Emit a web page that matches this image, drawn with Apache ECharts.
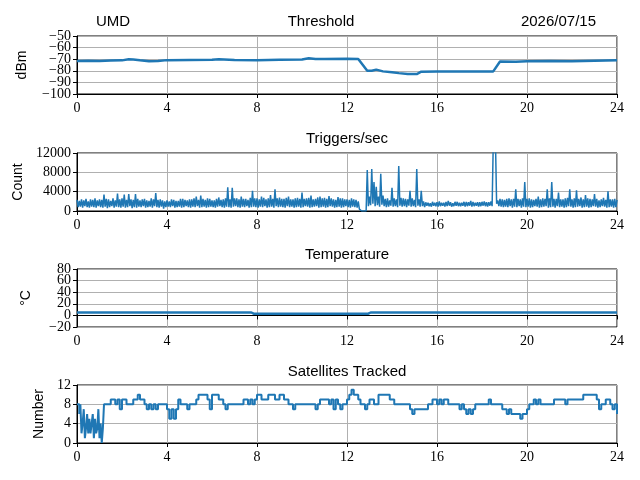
<!DOCTYPE html>
<html>
<head>
  <meta charset="UTF-8">
  <title>UMD detector status</title>
  <script src="https://cdn.jsdelivr.net/npm/echarts@6"></script>
  <style>
    html, body { margin: 0; padding: 0; background: #fff; }
    #chart { width: 640px; height: 480px; }
  </style>
</head>
<body>
  <div id="chart"></div>
  <script>
    // header texts
    const station = 'UMD';
    const dateText = '2026/07/15';
    const panelTitles = ['Threshold', 'Triggers/sec', 'Temperature', 'Satellites Tracked'];
    const yNames = ['dBm', 'Count', '°C', 'Number'];

    // threshold (dBm), hours -> value
    const thrTime = [0, 0.5, 1, 1.5, 2, 2.3, 2.5, 2.8, 3.2, 3.6, 4, 5, 6, 6.3, 7, 8, 9, 10, 10.3, 10.6,
      11, 12, 12.5, 12.9, 13.1, 13.3, 13.6, 14, 14.3, 14.7, 15.1, 15.3, 16, 17, 18, 18.5, 18.8,
      19.5, 20, 21, 22, 23, 24];
    const thrValue = [-71.5, -71.3, -71.6, -71.2, -71, -70, -70.3, -71, -71.8, -71.6, -70.8, -70.6,
      -70.4, -70, -70.6, -70.8, -70.4, -70.2, -69.2, -69.8, -69.8, -69.7, -69.8, -80, -80, -79,
      -80.5, -81.3, -82, -82.8, -82.8, -80.8, -80.6, -80.5, -80.7, -80.5, -72, -72.2, -71.8,
      -71.6, -71.8, -71.4, -71];

    // triggers per second: peak of each 0.1 h slot (one row per hour) ...
    const trigHigh = [
      2300, 2100, 2400, 2200, 2500, 2000, 2400, 2300, 2600, 2200,
      2400, 2300, 3400, 2500, 2400, 2100, 2600, 2200, 3600, 2400,
      2600, 3400, 2300, 3500, 2400, 2300, 3500, 2500, 2200, 2400,
      2500, 2200, 2100, 2600, 2400, 3700, 2300, 2400, 2200, 2000,
      2200, 2000, 2400, 2300, 2100, 2100, 2500, 2500, 2300, 2200,
      2400, 2400, 2600, 3000, 2300, 3200, 2500, 2300, 2600, 2500,
      2200, 2200, 2500, 2800, 2300, 2400, 2600, 4900, 2400, 4800,
      2600, 2600, 2400, 3000, 2500, 2500, 2300, 2700, 4200, 2600,
      2600, 2400, 3000, 2700, 2400, 2600, 3300, 2500, 4500, 2600,
      2800, 2500, 2500, 2700, 3000, 2400, 2400, 2600, 2700, 2500,
      3800, 2500, 2600, 2700, 3200, 2400, 2500, 2800, 3000, 2600,
      2700, 2500, 3100, 2600, 2400, 2300, 2900, 2600, 2600, 2400,
      2400, 2300, 2600, 2400, 2300, 2000, 100, 0, 300, 8500,
      3000, 8700, 6000, 5000, 3000, 7700, 3200, 2500, 2600, 2200,
      4800, 2600, 2400, 9300, 2700, 2600, 2500, 2400, 4200, 2600,
      2300, 8700, 2400, 4200, 2000, 1800, 1700, 1600, 1900, 1700,
      1800, 2000, 1700, 1700, 1900, 2100, 1800, 1600, 1900, 1900,
      1700, 1700, 1900, 1900, 1800, 2100, 1900, 1700, 1800, 1800,
      1900, 2000, 1800, 1800, 2000, 14000, 14000, 2200, 2500, 2400,
      2300, 2500, 2600, 2400, 2500, 4500, 2500, 2400, 2600, 6000,
      2500, 2600, 2400, 2300, 2500, 3000, 2400, 2600, 2500, 4500,
      2600, 6000, 2500, 2500, 3800, 2400, 2400, 2600, 2700, 4500,
      2400, 2600, 4300, 2500, 2800, 2400, 3300, 2600, 2500, 2400,
      3500, 2500, 2200, 2400, 2700, 2300, 4100, 2400, 2400, 2500,
      2300
    ];
    // ... and the trough half a slot later
    const trigLow = [
      800, 900, 700, 1000, 800, 700, 900, 800, 700, 1000,
      800, 700, 900, 600, 800, 1000, 700, 900, 800, 700,
      900, 700, 800, 1000, 600, 800, 700, 900, 800, 1000,
      700, 800, 900, 700, 1000, 800, 700, 900, 500, 800,
      900, 800, 1000, 700, 800, 900, 700, 800, 1000, 800,
      700, 900, 800, 1000, 700, 800, 900, 700, 800, 900,
      800, 700, 900, 1000, 800, 700, 900, 800, 700, 900,
      1000, 800, 700, 900, 800, 1000, 700, 800, 900, 800,
      700, 900, 800, 1000, 700, 800, 900, 700, 1000, 800,
      900, 800, 700, 1000, 800, 900, 700, 800, 900, 700,
      800, 1000, 900, 700, 800, 900, 1000, 700, 800, 900,
      700, 800, 1000, 900, 700, 800, 900, 700, 800, 1000,
      800, 700, 900, 800, 700, 400, 0, 0, 0, 1000,
      1200, 1500, 1000, 1200, 900, 1300, 1000, 800, 900, 1100,
      900, 1000, 800, 1100, 900, 1000, 800, 1100, 900, 1000,
      800, 1100, 900, 1000, 800, 1100, 1000, 900, 1100, 1000,
      900, 1000, 1100, 900, 1000, 1100, 900, 1000, 1100, 1000,
      1000, 1100, 900, 1000, 1100, 900, 1000, 1100, 900, 1000,
      1100, 1000, 900, 1100, 1000, 13000, 1500, 1000, 900, 800,
      900, 800, 1000, 700, 900, 800, 1000, 700, 900, 800,
      900, 700, 800, 1000, 900, 700, 800, 900, 1000, 700,
      800, 900, 700, 1000, 800, 900, 700, 800, 1000, 900,
      700, 800, 900, 1000, 700, 800, 900, 700, 800, 1000,
      900, 700, 800, 1000, 900, 700, 800, 900, 700, 800
    ];

    // temperature (°C)
    const tempTime = [0, 0.85, 0.9, 0.95, 4, 7.75, 7.85, 10, 12.95, 13.05, 18, 24];
    const tempValue = [5, 5, 3, 5, 5, 5, 3, 3, 3, 5, 5, 5];

    // satellites tracked: first 1.2 h every 0.05 h (noisy start) ...
    const satStart = [
      8, 8, 6, 8, 2, 4, 7, 1, 3, 6, 2, 5, 2, 4, 6, 1, 5, 2, 3, 7, 1, 4, 0, 3
    ];
    // ... then every 0.1 h from 1.2 h on (row ends on each full hour)
    const satRest = [
      8, 8, 8, 9, 9, 8, 9, 7,
      9, 9, 8, 8, 8, 9, 9, 10, 9, 9,
      8, 7, 8, 7, 8, 7, 8, 8, 8, 8,
      7, 5, 7, 5, 7, 9, 8, 8, 8, 7,
      8, 8, 8, 9, 10, 10, 10, 10, 9, 7,
      10, 10, 10, 9, 9, 8, 7, 8, 8, 8,
      8, 8, 8, 8, 9, 9, 8, 9, 8, 9,
      10, 10, 9, 9, 9, 10, 10, 10, 9, 9,
      10, 10, 9, 9, 8, 8, 7, 8, 8, 8,
      8, 8, 8, 8, 8, 8, 7, 8, 9, 9,
      9, 9, 8, 9, 7, 9, 8, 7, 8, 8,
      9, 10, 11, 10, 10, 9, 8, 8, 7, 8,
      9, 9, 8, 8, 10, 10, 10, 10, 10, 9,
      9, 8, 8, 8, 8, 8, 8, 8, 7, 6,
      7, 7, 7, 7, 7, 7, 8, 8, 9, 9,
      8, 9, 8, 9, 9, 8, 8, 8, 8, 8,
      7, 8, 7, 6, 7, 6, 7, 8, 8, 8,
      8, 8, 8, 9, 8, 8, 8, 8, 8, 7,
      7, 6, 7, 6, 6, 6, 6, 5, 6, 6,
      7, 8, 8, 9, 8, 9, 8, 8, 8, 8,
      8, 8, 9, 9, 9, 9, 9, 8, 9, 9,
      9, 9, 9, 9, 9, 10, 10, 10, 10, 10,
      10, 9, 7, 8, 8, 9, 9, 8, 7, 8,
      6
    ];

    // y-axis ranges [min, max, interval]
    const yRanges = [[-100, -50, 10], [0, 12000, 4000], [-20, 80, 20], [0, 12, 4]];
    const yNameGaps = [48, 50, 44, 31];
    // crowded panels: tick labels split into two interleaved sets [from, to, step]
    const labelSets = {
      0: [[-100, -60, 20], [-90, -50, 20]],
      2: [[-20, 60, 40], [0, 80, 40]]
    };

    const blue = '#1f77b4';
    const serif = '"Liberation Serif", serif';
    const sans = '"Liberation Sans", sans-serif';
    const gridTops = [36, 153, 269, 385];
    const gridH = 58;
    const titleY = [22, 139, 255, 372];

    const pairs = (t, v) => t.map((x, i) => [x, v[i]]);
    const minus = v => String(v).replace('-', '\u2212');

    // zigzag: peak at each slot, trough half a slot later
    const trigData = [];
    trigHigh.forEach((v, i) => {
      trigData.push([i / 10, v]);
      if (i < trigLow.length) trigData.push([i / 10 + 0.05, trigLow[i]]);
    });

    const satData = satStart.map((v, i) => [i * 0.05, v])
      .concat(satRest.map((v, i) => [1.2 + i / 10, v]));

    const chart = echarts.init(document.getElementById('chart'), null, { renderer: 'canvas' });

    const tickLabel = { color: '#000', fontFamily: serif, fontSize: 14 };

    const grids = gridTops.map(top => ({
      left: 77, right: 23, top: top, height: gridH,
      show: true, borderColor: '#000', borderWidth: 1, backgroundColor: 'transparent'
    }));

    const xAxes = gridTops.map((_, i) => ({
      type: 'value', gridIndex: i, min: 0, max: 24, interval: 4,
      axisLine: { show: true, lineStyle: { color: '#000', width: 1 } },
      axisTick: { show: true, inside: false, length: 4, lineStyle: { color: '#000' } },
      axisLabel: Object.assign({ margin: 7, showMinLabel: true, showMaxLabel: true }, tickLabel),
      splitLine: { show: true, lineStyle: { color: '#b0b0b0', width: 1 } }
    }));

    const yAxes = yRanges.map((r, i) => ({
      type: 'value', gridIndex: i, min: r[0], max: r[1], interval: r[2],
      name: yNames[i], nameLocation: 'middle', nameGap: yNameGaps[i], nameRotate: 90,
      nameTextStyle: { color: '#000', fontFamily: sans, fontSize: 14 },
      axisLine: { show: true, lineStyle: { color: '#000', width: 1 } },
      axisTick: { show: true, inside: false, length: 4, lineStyle: { color: '#000' } },
      axisLabel: Object.assign({
        show: !labelSets[i], margin: 6, formatter: minus, showMinLabel: true, showMaxLabel: true
      }, tickLabel),
      splitLine: { show: true, lineStyle: { color: '#b0b0b0', width: 1 } }
    }));

    // label-only axes on sub-grids that cover exactly their part of the panel's value range
    Object.keys(labelSets).forEach(key => {
      const p = Number(key);
      const [lo, hi] = yRanges[p];
      labelSets[p].forEach(([from, to, step]) => {
        const g = grids.length;
        grids.push({
          left: 77, right: 23, show: false,
          top: gridTops[p] + (hi - to) / (hi - lo) * gridH,
          height: (to - from) / (hi - lo) * gridH
        });
        xAxes.push({ type: 'value', gridIndex: g, min: 0, max: 24, show: false });
        yAxes.push({
          type: 'value', gridIndex: g, min: from, max: to, interval: step,
          axisLine: { show: false }, axisTick: { show: false }, splitLine: { show: false },
          axisLabel: Object.assign({ margin: 6, formatter: minus, showMinLabel: true, showMaxLabel: true }, tickLabel)
        });
      });
    });

    const lineSeries = (idx, data, width, extra) => Object.assign({
      type: 'line', xAxisIndex: idx, yAxisIndex: idx, data: data,
      showSymbol: false, symbol: 'none', clip: true, animation: false,
      lineStyle: { color: blue, width: width }
    }, extra || {});

    const titleText = (x, y, text, align) => ({
      type: 'text', x: x, y: y,
      style: { text: text, fill: '#000', font: '15px ' + sans, textAlign: align, textVerticalAlign: 'middle' }
    });

    const option = {
      animation: false,
      grid: grids,
      xAxis: xAxes,
      yAxis: yAxes,
      series: [
        lineSeries(0, pairs(thrTime, thrValue), 2.5),
        lineSeries(1, trigData, 1.5),
        lineSeries(2, pairs(tempTime, tempValue), 2.5),
        lineSeries(3, satData, 2, { step: 'end' })
      ],
      graphic: [
        titleText(96, titleY[0], station, 'left'),
        titleText(321, titleY[0], panelTitles[0], 'center'),
        titleText(596, titleY[0], dateText, 'right'),
        titleText(347, titleY[1], panelTitles[1], 'center'),
        titleText(347, titleY[2], panelTitles[2], 'center'),
        titleText(347, titleY[3], panelTitles[3], 'center')
      ]
    };

    chart.setOption(option);
  </script>
</body>
</html>
